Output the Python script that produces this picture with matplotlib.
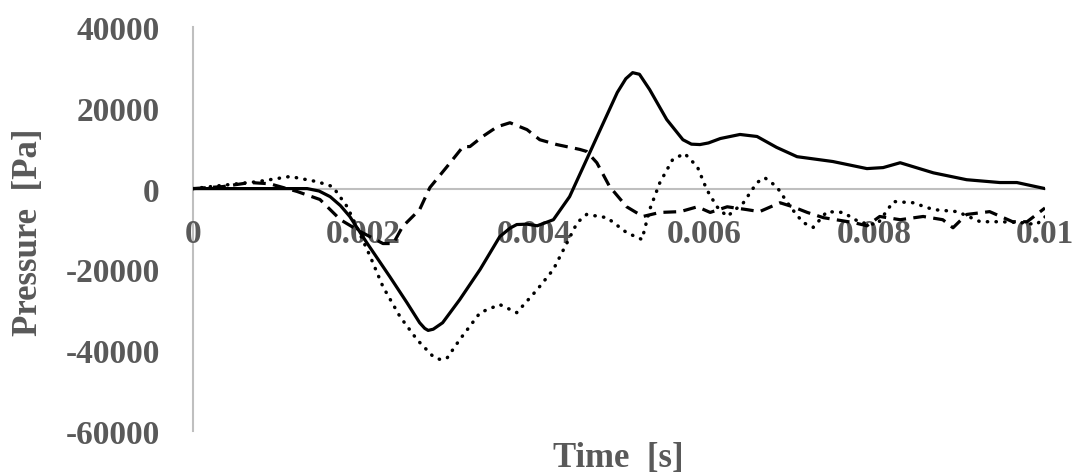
import numpy as np
from matplotlib import pyplot as plt

# pressure traces (time in s, pressure in Pa)
t_solid = [0, 0.00079, 0.00134, 0.00148, 0.00161, 0.00173, 0.00184, 0.00204, 0.00231,
           0.00251, 0.00266, 0.00272, 0.00276, 0.00282, 0.00293, 0.00313, 0.00337, 0.0036,
           0.00372, 0.0038, 0.00392, 0.00404, 0.00423, 0.00442, 0.00462, 0.00478, 0.00498,
           0.00508, 0.00516, 0.00524, 0.00536, 0.00556, 0.00575, 0.00585, 0.00595, 0.00605,
           0.00619, 0.00642, 0.00662, 0.00685, 0.00709, 0.00751, 0.00791, 0.0081, 0.0083,
           0.00869, 0.00908, 0.00947, 0.00967, 0.01]
p_solid = [0, 0, 0, -600, -2000, -4200, -6900, -13400, -21800,
           -28200, -33200, -34600, -35100, -34800, -33200, -27500, -20000, -11900,
           -9800, -8900, -8800, -9200, -7700, -2000, 7200, 14600, 23800,
           27200, 28700, 28300, 24500, 17100, 12100, 11000, 10900, 11300,
           12400, 13400, 12900, 10200, 7900, 6700, 4950, 5200, 6400,
           3900, 2200, 1500, 1500, 0]

t_dash = [0, 0.00035, 0.00067, 0.0009, 0.00122, 0.00149, 0.00173, 0.00196, 0.00223,
          0.00235, 0.00246, 0.00266, 0.00278, 0.00298, 0.00317, 0.00325, 0.0034,
          0.00357, 0.00372, 0.00392, 0.00407, 0.00427, 0.00454, 0.00462, 0.00474,
          0.00489, 0.00509, 0.00528, 0.00548, 0.00572, 0.00592, 0.00607, 0.00627,
          0.0065, 0.00665, 0.00689, 0.00704, 0.00721, 0.0074, 0.00775, 0.00791,
          0.00806, 0.0083, 0.00857, 0.0088, 0.00892, 0.00908, 0.00935, 0.00962,
          0.00979, 0.01]
p_dash = [0, 500, 1500, 1200, -700, -2700, -7700, -10600, -13600,
          -13600, -9400, -5200, 250, 5400, 10400, 10400, 12900,
          15300, 16300, 14600, 12100, 10900, 9700, 9200, 6400,
          500, -4500, -6900, -5900, -5700, -4500, -5900, -4500,
          -5200, -5700, -3500, -4500, -5900, -7200, -8400, -9200,
          -6900, -7700, -6900, -7700, -9700, -6400, -5700, -8200,
          -8200, -4800]

t_dot = [0, 0.00043, 0.00075, 0.00114, 0.00146, 0.00164, 0.00181, 0.00192, 0.00208,
         0.00223, 0.00243, 0.00263, 0.00282, 0.0029, 0.00298, 0.00313, 0.00337, 0.0036,
         0.0038, 0.00404, 0.00423, 0.00439, 0.00451, 0.00462, 0.00486, 0.00509,
         0.00527, 0.00536, 0.00548, 0.00563, 0.00577, 0.00592, 0.00603, 0.00615,
         0.00627, 0.00646, 0.00662, 0.00671, 0.00685, 0.00701, 0.00716, 0.00728,
         0.00744, 0.00763, 0.00783, 0.00803, 0.00822, 0.00845, 0.00869, 0.00897,
         0.00924, 0.00947, 0.00971, 0.0099, 0.01]
p_dot = [0, 1000, 1700, 3000, 1700, 500, -4500, -9400, -16800,
         -24300, -31700, -37400, -41600, -42300, -42000, -37400, -30700, -28700,
         -30700, -25000, -20000, -13400, -8400, -6400, -7200, -10900,
         -12600, -5200, 1500, 7200, 8700, 5400, -250, -4500,
         -6900, -3500, 1500, 2700, 500, -4500, -8400, -9600,
         -5700, -5900, -8400, -8900, -3200, -3500, -5200, -5700,
         -8200, -8200, -8400, -8900, -7000]

x_ticks = [0, 0.002, 0.004, 0.006, 0.008, 0.01]
x_ticklabels = ["0", "0.002", "0.004", "0.006", "0.008", "0.01"]
y_ticks = [-60000, -40000, -20000, 0, 20000, 40000]

grey = "#595959"
axis_grey = "#bfbfbf"
plt.rcParams['font.family'] = ['Liberation Serif', 'DejaVu Serif']
plt.rcParams['font.weight'] = 'bold'
plt.rcParams['axes.unicode_minus'] = False

fig = plt.figure(figsize=(10.8, 4.77), dpi=100)
ax = fig.add_axes([193/1080, 1-432/477, (1045-193)/1080, (432-28)/477])

ax.plot(t_solid, p_solid, color="black", lw=2.3, solid_joinstyle="round",
        solid_capstyle="round")
ax.plot(t_dash, p_dash, color="black", lw=2.3, linestyle=(0, (4, 2.3)),
        dash_joinstyle="round")
ax.plot(t_dot, p_dot, color="black", lw=2.5, linestyle=(0, (0.1, 2.4)),
        dash_capstyle="round", dash_joinstyle="round")

ax.set_xlim(0, 0.01)
ax.set_ylim(-60000, 40000)
ax.set_xticks(x_ticks)
ax.set_xticklabels(x_ticklabels)
ax.set_yticks(y_ticks)

for s in ["top", "right"]:
    ax.spines[s].set_visible(False)
ax.spines["bottom"].set_position(("data", 0))
ax.spines["bottom"].set_color(axis_grey)
ax.spines["bottom"].set_linewidth(1.5)
ax.spines["bottom"].set_zorder(0)
ax.spines["left"].set_color(axis_grey)
ax.spines["left"].set_linewidth(1.5)
ax.spines["left"].set_zorder(0)

ax.tick_params(axis="x", length=0, pad=21, labelsize=24, labelcolor=grey)
ax.tick_params(axis="y", length=0, pad=24, labelsize=24, labelcolor=grey)
for lab in ax.get_xticklabels() + ax.get_yticklabels():
    lab.set_fontweight("bold")

fig.text(618/1080, 1-459/477, "Time  [s]", ha="center", va="center",
         fontsize=25, color=grey, fontweight="bold")
fig.text(29/1080, 1-232/477, "Pressure  [Pa]", ha="center", va="center",
         rotation=90, fontsize=25, color=grey, fontweight="bold")

fig.savefig("out.png", dpi=100)
